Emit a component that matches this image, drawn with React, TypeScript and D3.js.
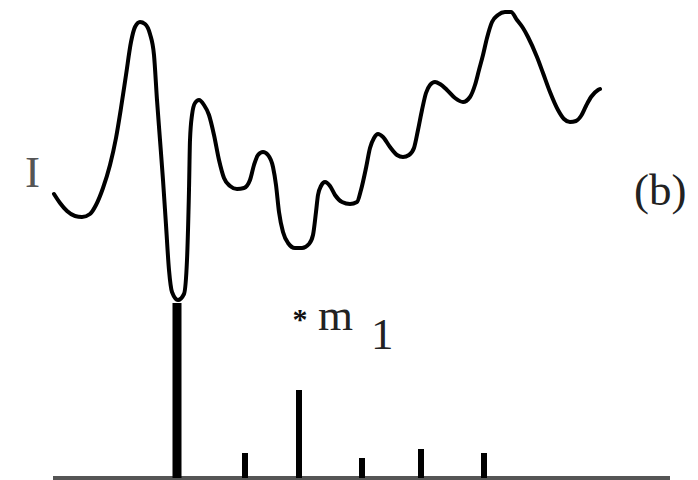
import React from "react";
import * as d3 from "d3";

// Spectrum curve (b): abscissa (arbitrary units) and intensity
const curveX = [1,7,14,22,29,37,43,50,57,63,68,73,78,82,87,92,97,101,104,107,110,113,116,119,125,131,134,136,137,139,142,146,151,156,161,166,171,177,184,191,197,201,205,210,215,220,223,226,230,235,242,249,256,260,263,265,268,272,277,282,289,297,304,308,313,317,321,325,330,337,344,350,356,361,365,369,373,377,382,387,394,402,410,417,422,426,430,434,439,445,452,458,464,470,475,484,490,497,505,511,517,523,528,533,538,545,547];
const curveI = [116,107,99,94,93,96,105,122,145,172,202,235,268,283,288,286,276,255,210,170,130,85,40,18,10,16,50,120,170,195,207,210,205,195,175,150,132,124,121,122,130,145,155,158,155,143,125,98,78,67,62,62,66,75,98,115,124,128,124,115,108,106,108,120,142,162,172,176,173,163,155,153,155,162,180,200,217,225,228,226,220,212,208,213,225,240,255,272,288,295,298,298,290,282,273,253,237,218,200,191,188,189,194,204,213,220,221];

// Stick spectrum: positions and heights
const stemX = [124, 192, 246, 309, 368, 431];
const stemH = [175, 25, 88, 20, 29, 25];

const W = 698;
const H = 480;

export default function App() {
  const xScale = d3.scaleLinear().domain([0, 617]).range([53, 670]);
  const yScale = d3.scaleLinear().domain([0, 300]).range([310, 10]);
  const sScale = d3.scaleLinear().domain([0, 200]).range([478, 278]);

  const pts: [number, number][] = curveX.map((x, i) => [x, curveI[i]]);
  const line = d3
    .line<[number, number]>()
    .x((d) => xScale(d[0]))
    .y((d) => yScale(d[1]))
    .curve(d3.curveMonotoneX);

  const font = "'Liberation Serif', 'Times New Roman', serif";

  return (
    <svg
      width={W}
      height={H}
      style={{ position: "absolute", left: 0, top: 0, background: "#fff" }}
    >
      <path d={line(pts) || ""} fill="none" stroke="#000" strokeWidth={4} strokeLinejoin="round" strokeLinecap="round" />
      <line x1={xScale(0)} x2={xScale(617)} y1={sScale(0)} y2={sScale(0)} stroke="#555" strokeWidth={4} />
      {stemX.map((x, i) => (
        <line
          key={i}
          x1={xScale(x)}
          x2={xScale(x)}
          y1={sScale(0)}
          y2={sScale(stemH[i])}
          stroke="#000"
          strokeWidth={i === 0 ? 9 : 6}
        />
      ))}
      <text x={25} y={187} fontFamily={font} fontSize={45} fill="#555">I</text>
      <text x={634} y={205} fontFamily={font} fontSize={45} fill="#222">(b)</text>
      <text x={300} y={329} fontFamily={font} fontSize={30} fontWeight="bold" fill="#111" textAnchor="middle">*</text>
      <text x={318} y={330} fontFamily={font} fontSize={45} fill="#222">m</text>
      <text x={371} y={349} fontFamily={font} fontSize={45} fill="#222">1</text>
    </svg>
  );
}
